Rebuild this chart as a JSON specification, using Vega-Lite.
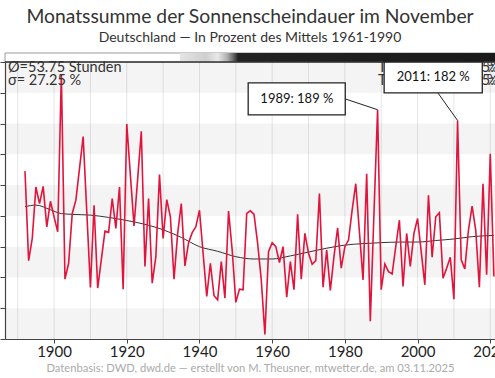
{
  "$schema": "https://vega.github.io/schema/vega-lite/v6.json",
  "width": 490,
  "height": 277,
  "autosize": {"type": "none"},
  "padding": {"left": 5, "top": 62, "right": 0, "bottom": 39},
  "background": "white",
  "config": {"font": "Lato", "view": {"stroke": null}},
  "title": {
    "text": "Monatssumme der Sonnenscheindauer im November",
    "subtitle": "Deutschland — In Prozent des Mittels 1961-1990",
    "fontSize": 19.3,
    "fontWeight": "normal",
    "color": "#333333",
    "subtitleFontSize": 14,
    "subtitleColor": "#333333",
    "anchor": "middle",
    "offset": 7,
    "subtitlePadding": 4
  },
  "datasets": {
    "bands": [
      {"year": 1886.5, "year2": 2021.3, "pct": 40, "pct2": 60},
      {"year": 1886.5, "year2": 2021.3, "pct": 80, "pct2": 100},
      {"year": 1886.5, "year2": 2021.3, "pct": 120, "pct2": 140},
      {"year": 1886.5, "year2": 2021.3, "pct": 160, "pct2": 180},
      {"year": 1886.5, "year2": 2021.3, "pct": 200, "pct2": 220}
    ],
    "decades": [
      {"year": 1890, "pct": 40, "pct2": 220}, {"year": 1900, "pct": 40, "pct2": 220}, {"year": 1910, "pct": 40, "pct2": 220},
      {"year": 1920, "pct": 40, "pct2": 220}, {"year": 1930, "pct": 40, "pct2": 220}, {"year": 1940, "pct": 40, "pct2": 220},
      {"year": 1950, "pct": 40, "pct2": 220}, {"year": 1960, "pct": 40, "pct2": 220}, {"year": 1970, "pct": 40, "pct2": 220},
      {"year": 1980, "pct": 40, "pct2": 220}, {"year": 1990, "pct": 40, "pct2": 220}, {"year": 2000, "pct": 40, "pct2": 220},
      {"year": 2010, "pct": 40, "pct2": 220}, {"year": 2020, "pct": 40, "pct2": 220}
    ],
    "strip": [{"year": 1886.5, "year2": 2021.3, "pct": 220, "pct2": 225.85}],
    "stripDark": [{"year": 1934.6, "year2": 2021.3, "pct": 220, "pct2": 225.85}],
    "frame": [{"year": 1886.5, "year2": 2021.3, "pct": 220}],
    "sun": [
      {"year": 1892, "pct": 149.1}, {"year": 1893, "pct": 90.9}, {"year": 1894, "pct": 105.4}, {"year": 1895, "pct": 138.8},
      {"year": 1896, "pct": 128}, {"year": 1897, "pct": 139.2}, {"year": 1898, "pct": 112.9}, {"year": 1899, "pct": 129.5},
      {"year": 1900, "pct": 119.4}, {"year": 1901, "pct": 109.7}, {"year": 1902, "pct": 212}, {"year": 1903, "pct": 78.9},
      {"year": 1904, "pct": 89.2}, {"year": 1905, "pct": 121.6}, {"year": 1906, "pct": 130.2}, {"year": 1907, "pct": 150.9},
      {"year": 1908, "pct": 171.6}, {"year": 1909, "pct": 122.6}, {"year": 1910, "pct": 73.5}, {"year": 1911, "pct": 126.9},
      {"year": 1912, "pct": 73.1}, {"year": 1913, "pct": 91.6}, {"year": 1914, "pct": 110.1}, {"year": 1915, "pct": 109.3},
      {"year": 1916, "pct": 131.3}, {"year": 1917, "pct": 111.9}, {"year": 1918, "pct": 138.8}, {"year": 1919, "pct": 72.4},
      {"year": 1920, "pct": 179.7}, {"year": 1921, "pct": 146.3}, {"year": 1922, "pct": 113.4}, {"year": 1923, "pct": 144.2},
      {"year": 1924, "pct": 175}, {"year": 1925, "pct": 87.1}, {"year": 1926, "pct": 131.3}, {"year": 1927, "pct": 76.3},
      {"year": 1928, "pct": 93.5}, {"year": 1929, "pct": 146.8}, {"year": 1930, "pct": 105.4}, {"year": 1931, "pct": 130.6},
      {"year": 1932, "pct": 119.4}, {"year": 1933, "pct": 78.9}, {"year": 1934, "pct": 108.6}, {"year": 1935, "pct": 128},
      {"year": 1936, "pct": 87.5}, {"year": 1937, "pct": 102.6}, {"year": 1938, "pct": 109.1}, {"year": 1939, "pct": 112.9},
      {"year": 1940, "pct": 123.7}, {"year": 1941, "pct": 95.7}, {"year": 1942, "pct": 67.7}, {"year": 1943, "pct": 89.2},
      {"year": 1944, "pct": 68.1}, {"year": 1945, "pct": 65.5}, {"year": 1946, "pct": 90.3}, {"year": 1947, "pct": 66.6},
      {"year": 1948, "pct": 123.1}, {"year": 1949, "pct": 97.8}, {"year": 1950, "pct": 63.8}, {"year": 1951, "pct": 72.4},
      {"year": 1952, "pct": 72}, {"year": 1953, "pct": 121.6}, {"year": 1954, "pct": 123.3}, {"year": 1955, "pct": 121.1},
      {"year": 1956, "pct": 102.2}, {"year": 1957, "pct": 78.4}, {"year": 1958, "pct": 42.9}, {"year": 1959, "pct": 96.8},
      {"year": 1960, "pct": 102.6}, {"year": 1961, "pct": 100}, {"year": 1962, "pct": 89.7}, {"year": 1963, "pct": 100},
      {"year": 1964, "pct": 67.2}, {"year": 1965, "pct": 90.3}, {"year": 1966, "pct": 72}, {"year": 1967, "pct": 121.1},
      {"year": 1968, "pct": 78.9}, {"year": 1969, "pct": 108.6}, {"year": 1970, "pct": 95.7}, {"year": 1971, "pct": 88.6},
      {"year": 1972, "pct": 90.9}, {"year": 1973, "pct": 134.5}, {"year": 1974, "pct": 73.7}, {"year": 1975, "pct": 97.8},
      {"year": 1976, "pct": 71.6}, {"year": 1977, "pct": 93.5}, {"year": 1978, "pct": 112.3}, {"year": 1979, "pct": 86},
      {"year": 1980, "pct": 100}, {"year": 1981, "pct": 104.3}, {"year": 1982, "pct": 123.7}, {"year": 1983, "pct": 140.9},
      {"year": 1984, "pct": 109.7}, {"year": 1985, "pct": 78.4}, {"year": 1986, "pct": 147.4}, {"year": 1987, "pct": 51.5},
      {"year": 1988, "pct": 121.6}, {"year": 1989, "pct": 189}, {"year": 1990, "pct": 72}, {"year": 1991, "pct": 88.8},
      {"year": 1992, "pct": 83.8}, {"year": 1993, "pct": 82.3}, {"year": 1994, "pct": 100}, {"year": 1995, "pct": 117.2},
      {"year": 1996, "pct": 74.1}, {"year": 1997, "pct": 108.6}, {"year": 1998, "pct": 87.1}, {"year": 1999, "pct": 108.6},
      {"year": 2000, "pct": 118.3}, {"year": 2001, "pct": 96.8}, {"year": 2002, "pct": 75.2}, {"year": 2003, "pct": 133.4},
      {"year": 2004, "pct": 93.1}, {"year": 2005, "pct": 119.4}, {"year": 2006, "pct": 122}, {"year": 2007, "pct": 79.5},
      {"year": 2008, "pct": 86}, {"year": 2009, "pct": 93.1}, {"year": 2010, "pct": 65.9}, {"year": 2011, "pct": 182},
      {"year": 2012, "pct": 91.4}, {"year": 2013, "pct": 85.6}, {"year": 2014, "pct": 110.8}, {"year": 2015, "pct": 126.3},
      {"year": 2016, "pct": 110.8}, {"year": 2017, "pct": 73.7}, {"year": 2018, "pct": 140.9}, {"year": 2019, "pct": 81.7},
      {"year": 2020, "pct": 160.3}, {"year": 2021, "pct": 80.6}
    ],
    "smooth": [
      {"year": 1892, "pct": 126}, {"year": 1895, "pct": 127}, {"year": 1899, "pct": 124}, {"year": 1902, "pct": 121.5},
      {"year": 1905, "pct": 121}, {"year": 1910, "pct": 120.5}, {"year": 1915, "pct": 119}, {"year": 1920, "pct": 117},
      {"year": 1925, "pct": 114.5}, {"year": 1930, "pct": 111}, {"year": 1935, "pct": 106}, {"year": 1940, "pct": 100},
      {"year": 1945, "pct": 97}, {"year": 1950, "pct": 93.5}, {"year": 1955, "pct": 92}, {"year": 1960, "pct": 92},
      {"year": 1965, "pct": 94}, {"year": 1970, "pct": 96.5}, {"year": 1975, "pct": 99}, {"year": 1980, "pct": 101},
      {"year": 1985, "pct": 102}, {"year": 1990, "pct": 102.6}, {"year": 1995, "pct": 103}, {"year": 2000, "pct": 103},
      {"year": 2005, "pct": 104}, {"year": 2010, "pct": 105}, {"year": 2015, "pct": 106.5}, {"year": 2021, "pct": 107.3}
    ],
    "stats": [
      {"year": 1886.5, "pct": 213.5, "label": "Ø=53.75 Stunden"},
      {"year": 1886.5, "pct": 205.1, "label": "σ= 27.25 %"}
    ],
    "trendLabels": [
      {"year": 1989.1, "pct": 213.5, "label": "Trend 1892-2025:"},
      {"year": 1989.1, "pct": 205.1, "label": "Trend 1961-2025:"}
    ],
    "trendValues": [
      {"year": 2022.2, "pct": 213.5, "label": "−12 %"},
      {"year": 2022.2, "pct": 205.1, "label": "+8 %"}
    ],
    "connectors": [
      {"year": 1980.1, "pct": 196, "year2": 1989, "pct2": 189},
      {"year": 2005.6, "pct": 199.9, "year2": 2011, "pct2": 182}
    ],
    "boxes": [
      {"year": 1953.4, "year2": 1980.1, "pct": 185.6, "pct2": 206.4},
      {"year": 1990.8, "year2": 2017.8, "pct": 199.9, "pct2": 220}
    ],
    "noteLabels": [
      {"year": 1966.8, "pct": 196, "label": "1989: 189 %"},
      {"year": 2004.3, "pct": 210, "label": "2011: 182 %"}
    ]
  },
  "encoding": {
    "x": {
      "field": "year", "type": "quantitative",
      "scale": {"domain": [1886.5, 2021.3], "nice": false, "zero": false},
      "axis": {
        "values": [1900, 1920, 1940, 1960, 1980, 2000, 2020],
        "format": "d",
        "grid": false,
        "tickSize": 4, "tickColor": "#444444",
        "domainColor": "#444444", "domainWidth": 1.2,
        "labelFontSize": 15, "labelColor": "#222222", "labelPadding": 1,
        "title": "Datenbasis: DWD, dwd.de — erstellt von M. Theusner, mtwetter.de, am 03.11.2025",
        "titleFontSize": 11.2, "titleFontWeight": "normal", "titleColor": "#aaaaaa", "titlePadding": 3
      }
    },
    "y": {
      "field": "pct", "type": "quantitative",
      "scale": {"domain": [40, 220], "nice": false, "zero": false},
      "axis": {
        "values": [40, 60, 80, 100, 120, 140, 160, 180, 200, 220],
        "labels": false, "grid": false, "title": null,
        "tickSize": 5, "tickColor": "#444444", "domainColor": "#444444", "domainWidth": 1.2
      }
    }
  },
  "layer": [
    {
      "data": {"name": "decades"},
      "mark": {"type": "rule", "color": "#e6e6e6", "strokeWidth": 1},
      "encoding": {"y2": {"field": "pct2"}}
    },
    {
      "data": {"name": "bands"},
      "mark": {"type": "rect", "fill": "#000000", "fillOpacity": 0.045},
      "encoding": {"x2": {"field": "year2"}, "y2": {"field": "pct2"}}
    },
    {
      "data": {"name": "strip"},
      "mark": {"type": "rect", "fill": "#ffffff", "stroke": "#9a9a9a", "strokeWidth": 1},
      "encoding": {"x2": {"field": "year2"}, "y2": {"field": "pct2"}}
    },
    {
      "data": {"name": "stripDark"},
      "mark": {
        "type": "rect",
        "fill": {
          "gradient": "linear", "x1": 0, "y1": 0, "x2": 1, "y2": 0,
          "stops": [
            {"offset": 0, "color": "#e4e4e4"},
            {"offset": 0.083, "color": "#cfcfcf"},
            {"offset": 0.12, "color": "#e8e8e8"},
            {"offset": 0.15, "color": "#b0b0b0"},
            {"offset": 0.17, "color": "#666666"},
            {"offset": 0.185, "color": "#222222"},
            {"offset": 1, "color": "#1a1a1a"}
          ]
        }
      },
      "encoding": {"x2": {"field": "year2"}, "y2": {"field": "pct2"}}
    },
    {
      "data": {"name": "smooth"},
      "mark": {"type": "line", "color": "#333333", "strokeWidth": 1, "interpolate": "monotone"},
      "encoding": {}
    },
    {
      "data": {"name": "sun"},
      "mark": {"type": "line", "color": "#e0143c", "strokeWidth": 1.6},
      "encoding": {}
    },
    {
      "data": {"name": "frame"},
      "mark": {"type": "rule", "color": "#333333", "strokeWidth": 1.5},
      "encoding": {"x2": {"field": "year2"}}
    },
    {
      "data": {"name": "stats"},
      "mark": {"type": "text", "align": "left", "baseline": "alphabetic", "dx": 3, "fontSize": 14.5, "color": "#333333"},
      "encoding": {"text": {"field": "label"}}
    },
    {
      "data": {"name": "trendLabels"},
      "mark": {"type": "text", "align": "left", "baseline": "alphabetic", "fontSize": 14.5, "color": "#333333"},
      "encoding": {"text": {"field": "label"}}
    },
    {
      "data": {"name": "trendValues"},
      "mark": {"type": "text", "align": "right", "baseline": "alphabetic", "fontSize": 14.5, "color": "#333333"},
      "encoding": {"text": {"field": "label"}}
    },
    {
      "data": {"name": "connectors"},
      "mark": {"type": "rule", "color": "#222222", "strokeWidth": 1},
      "encoding": {"x2": {"field": "year2"}, "y2": {"field": "pct2"}}
    },
    {
      "data": {"name": "boxes"},
      "mark": {"type": "rect", "fill": "#ffffff", "stroke": "#222222", "strokeWidth": 1.3},
      "encoding": {"x2": {"field": "year2"}, "y2": {"field": "pct2"}}
    },
    {
      "data": {"name": "noteLabels"},
      "mark": {"type": "text", "align": "center", "baseline": "middle", "fontSize": 13, "color": "#111111"},
      "encoding": {"text": {"field": "label"}}
    }
  ]
}
